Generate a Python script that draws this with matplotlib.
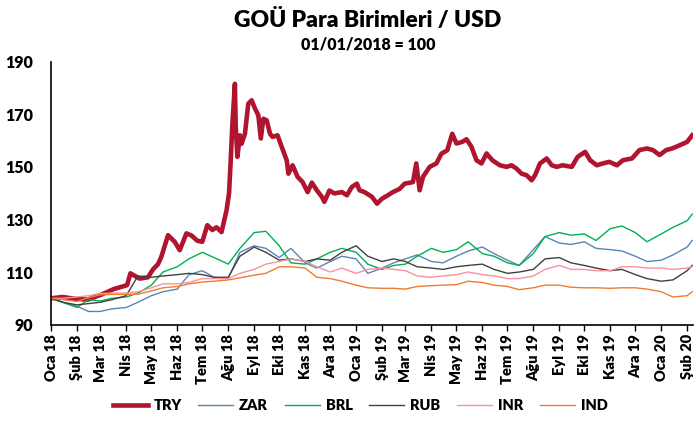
import matplotlib.pyplot as plt
import pandas as pd

# TRY is read with more points (August 2018 spike)
try_dates = ['2018-01-01', '2018-01-15', '2018-01-30', '2018-02-14', '2018-03-03', '2018-03-17',
             '2018-04-02', '2018-04-06', '2018-04-17', '2018-04-27', '2018-05-03', '2018-05-09',
             '2018-05-13', '2018-05-21', '2018-05-29', '2018-06-04', '2018-06-12', '2018-06-18',
             '2018-06-25', '2018-07-01', '2018-07-07', '2018-07-13', '2018-07-18', '2018-07-24',
             '2018-07-30', '2018-08-02', '2018-08-04', '2018-08-06', '2018-08-09', '2018-08-10',
             '2018-08-12', '2018-08-15', '2018-08-17', '2018-08-21', '2018-08-25', '2018-08-29',
             '2018-09-02', '2018-09-06', '2018-09-09', '2018-09-12', '2018-09-16', '2018-09-20',
             '2018-09-23', '2018-09-29', '2018-10-04', '2018-10-10', '2018-10-12', '2018-10-17',
             '2018-10-23', '2018-10-29', '2018-11-04', '2018-11-09', '2018-11-15', '2018-11-21',
             '2018-11-24', '2018-11-30', '2018-12-06', '2018-12-15', '2018-12-21', '2018-12-27',
             '2019-01-02', '2019-01-05', '2019-01-11', '2019-01-20', '2019-01-26', '2019-02-01',
             '2019-02-08', '2019-02-14', '2019-02-22', '2019-02-28', '2019-03-10', '2019-03-14',
             '2019-03-18', '2019-03-22', '2019-03-30', '2019-04-07', '2019-04-13', '2019-04-20',
             '2019-04-26', '2019-05-01', '2019-05-08', '2019-05-13', '2019-05-19', '2019-05-25',
             '2019-05-31', '2019-06-06', '2019-06-13', '2019-06-22', '2019-06-30', '2019-07-06',
             '2019-07-12', '2019-07-18', '2019-07-24', '2019-07-30', '2019-08-03', '2019-08-09',
             '2019-08-17', '2019-08-23', '2019-08-29', '2019-09-05', '2019-09-16', '2019-09-23',
             '2019-10-02', '2019-10-08', '2019-10-16', '2019-10-23', '2019-10-31', '2019-11-09',
             '2019-11-16', '2019-11-27', '2019-12-06', '2019-12-15', '2019-12-22', '2019-12-30',
             '2020-01-07', '2020-01-14', '2020-01-23', '2020-02-01', '2020-02-07']
try_values = [100, 100.5, 99.8, 99.5, 101.5, 103.5,
              105, 109.5, 107.5, 108, 111, 113,
              115.8, 124, 121.5, 118.3, 124.7, 123.9,
              121.9, 121.5, 127.8, 126, 127, 125.2,
              133.5, 140, 152.5, 166.4, 181.6, 165,
              153.8, 162, 158.8, 162.6, 174, 175.3,
              172.2, 169.6, 160.8, 168.3, 167.7, 162.6,
              161.4, 162, 157.6, 152.5, 147.4, 150.6,
              146.2, 144.2, 140.4, 144, 141.1, 138.6,
              136.7, 141, 139.9, 140.4, 139.2, 142.4,
              143.6, 141.1, 140.4, 138.6, 136, 137.9,
              139.2, 140.4, 141.6, 143.6, 144.2, 151.3,
              141.1, 146.2, 150, 151.3, 155, 156.3,
              162.6, 158.9, 159.5, 160.5, 157.6, 152.5,
              151.3, 155.1, 152.5, 150.6, 150, 150.6,
              149.3, 147.4, 146.8, 144.9, 146.8, 151.3,
              153.2, 150.6, 150, 150.6, 150, 153.8,
              155.7, 152.5, 150.6, 151.3, 151.9, 150.6,
              152.5, 153.2, 156.4, 157, 156.4, 154.5,
              156.4, 157, 158.2, 159.5, 162]

# other currencies: 1st and 15th of each month
dates = list(pd.date_range('2018-01-01', '2020-02-01', freq='SMS')) + [pd.Timestamp('2020-02-07')]

zar = [100, 98.5, 97, 95, 95, 96, 96.5, 98.5, 101, 102.5, 103.5, 109,
       110.5, 108, 107.5, 117.5, 120, 119, 115.5, 119, 113.5, 111.5, 114, 116,
       115, 109.5, 111.5, 113.5, 115, 116.5, 114, 113.5, 116, 118, 119.5, 117,
       114.5, 112.5, 118.5, 123.5, 121, 120.5, 121.5, 119, 118.5, 118, 116, 114,
       114.5, 116.5, 119.5, 122]
brl = [100, 98.5, 96.5, 99.5, 99, 100, 100.5, 102, 105, 110, 112, 115,
       117.5, 115.5, 113, 119, 125, 125.5, 120, 113.5, 113, 115, 117.5, 119,
       117.5, 113, 111, 112.5, 113, 116, 119, 117.5, 118.5, 121.5, 117, 116,
       113.5, 112.5, 117, 123.5, 125, 124, 124.5, 122, 126.5, 127.5, 125, 121.5,
       124.5, 127, 129.5, 132]
rub = [100, 98.5, 97.5, 98, 98.5, 99.5, 101, 108.5, 108, 108.5, 109, 109.5,
       109, 108, 108, 116, 119.5, 117.5, 114.5, 115, 114, 115, 114.5, 117.5,
       120, 116, 114, 115, 114, 112, 111.5, 111, 112, 112.5, 113, 111,
       109.5, 110, 111, 115, 115.5, 113.5, 112.5, 111.5, 110.5, 111, 109, 107.5,
       106.5, 107, 110.5, 112.5]
inr = [100, 100, 100.5, 101, 101.8, 102, 102, 102.5, 104, 105.5, 105.5, 106,
       107.5, 107.5, 107.5, 109.5, 111, 113, 114, 115, 114, 112, 110, 111.5,
       109.5, 111, 111.5, 111, 110.5, 108.5, 108, 108.5, 109, 110, 109, 108.5,
       107.5, 107.5, 108.5, 111, 112.5, 111, 111, 110.5, 110.5, 112, 112, 111.5,
       111.5, 111, 111.5, 112]
ind = [100, 99.5, 98.8, 100.3, 101.3, 101.5, 101.5, 101.6, 102.8, 104, 104.5, 105.5,
       106.2, 106.5, 107, 107.8, 108.8, 109.5, 112, 112, 111.5, 108, 107.5, 106.5,
       105, 104, 103.8, 103.8, 103.5, 104.5, 104.8, 105, 105.2, 106.5, 106, 105,
       104.5, 103.3, 104, 105, 105, 104.2, 104, 104, 103.8, 104, 104, 103.5,
       102.5, 100.5, 101, 102.5]

tick_labels = ['Oca 18', 'Şub 18', 'Mar 18', 'Nis 18', 'May 18', 'Haz 18', 'Tem 18',
               'Ağu 18', 'Eyl 18', 'Eki 18', 'Kas 18', 'Ara 18',
               'Oca 19', 'Şub 19', 'Mar 19', 'Nis 19', 'May 19', 'Haz 19', 'Tem 19',
               'Ağu 19', 'Eyl 19', 'Eki 19', 'Kas 19', 'Ara 19', 'Oca 20', 'Şub 20']

plt.rcParams['font.family'] = ['Lato', 'DejaVu Sans']
plt.rcParams['font.weight'] = 'heavy'

fig = plt.figure(figsize=(6.96, 4.21), dpi=100)
ax = fig.add_axes([51 / 696, 96.4 / 421, 642 / 696, 262.9 / 421])

ax.plot(pd.to_datetime(try_dates), try_values, color='#B0142E', lw=3.3, label='TRY')
ax.plot(dates, zar, color='#5A84B5', lw=1.0, label='ZAR')
ax.plot(dates, brl, color='#00B050', lw=1.0, label='BRL')
ax.plot(dates, rub, color='#404040', lw=1.0, label='RUB')
ax.plot(dates, inr, color='#F7929F', lw=1.0, label='INR')
ax.plot(dates, ind, color='#ED7D31', lw=1.0, label='IND')

ax.set_ylim(90, 190)
ax.set_yticks(range(90, 191, 20))
ax.set_xlim(pd.Timestamp('2018-01-01'), pd.Timestamp('2020-02-08'))
ax.set_xticks(pd.date_range('2018-01-01', '2020-02-01', freq='MS'))
ax.set_xticklabels(tick_labels, rotation=90)

ax.spines['top'].set_visible(False)
ax.spines['right'].set_visible(False)
ax.spines['left'].set_linewidth(1.2)
ax.spines['bottom'].set_linewidth(1.2)
ax.tick_params(axis='y', length=0, pad=13, labelsize=11.5)
ax.tick_params(axis='x', length=4, width=1, direction='out', pad=3, labelsize=10.5)

fig.text(368 / 696, 1 - 20 / 421, 'GOÜ Para Birimleri / USD', ha='center', va='center',
         fontsize=16.5, fontweight='heavy')
fig.text(368 / 696, 1 - 44 / 421, '01/01/2018 = 100', ha='center', va='center',
         fontsize=11.5, fontweight='heavy')

fig.legend(loc='center', bbox_to_anchor=(360 / 696, 1 - 406 / 421), ncol=6, frameon=False,
           fontsize=10.5, handlelength=2.4, handletextpad=0.4, columnspacing=1.15)

fig.savefig('out.png', dpi=100)
